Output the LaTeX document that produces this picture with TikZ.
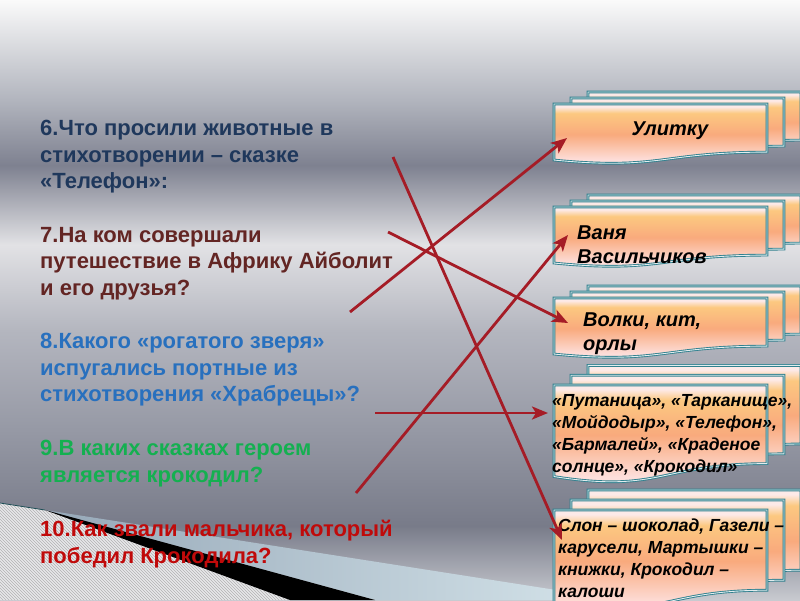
\documentclass[tikz,border=0pt]{standalone}
\usepackage{fontspec}
\setmainfont{Liberation Sans}
\usetikzlibrary{arrows.meta, patterns}

% slide colours
\definecolor{bgtop}{RGB}{250,250,250}
\definecolor{bgpale}{RGB}{178,181,190}
\definecolor{bgdark}{RGB}{126,129,144}
\definecolor{bglight}{RGB}{226,226,229}
\definecolor{bgmid}{RGB}{180,182,191}
\definecolor{bgdim}{RGB}{150,153,165}
\definecolor{bglow}{RGB}{120,123,137}
\definecolor{bgfoot}{RGB}{200,202,208}
\definecolor{qnavy}{RGB}{31,56,92}
\definecolor{qmaroon}{RGB}{99,37,35}
\definecolor{qblue}{RGB}{40,112,190}
\definecolor{qgreen}{RGB}{20,176,80}
\definecolor{qred}{RGB}{192,10,10}
\definecolor{docteal}{RGB}{48,128,142}
\definecolor{docpale}{RGB}{253,234,232}
\definecolor{docamber}{RGB}{252,200,128}
\definecolor{docsalmon}{RGB}{249,170,125}
\definecolor{docpink}{RGB}{253,222,218}
\definecolor{arrowred}{RGB}{165,28,38}
\definecolor{hatchbg}{RGB}{232,232,234}
\definecolor{iceleft}{RGB}{150,168,184}
\definecolor{iceright}{RGB}{214,229,235}

\pgfdeclareverticalshading{slidebg}{100bp}{color(0bp)=(bgfoot); color(25bp)=(bgfoot);
  color(31.2bp)=(bglow); color(39.2bp)=(bgdim); color(47.5bp)=(bgmid);
  color(54.6bp)=(bglight); color(61.2bp)=(bgdark); color(66.7bp)=(bgpale);
  color(75bp)=(bgtop); color(100bp)=(bgtop)}
\pgfdeclareverticalshading{docfill}{100bp}{color(0bp)=(docpale); color(25bp)=(docpale);
  color(33bp)=(docpink); color(52bp)=(docsalmon); color(68bp)=(docamber);
  color(73bp)=(docpale); color(100bp)=(docpale)}

% one sheet of the stacked document shape: left x, top y, height
\newcommand{\doclayer}[3]{%
  \pgfmathsetmacro\dxr{#1+213}
  \pgfmathsetmacro\dxm{#1+106.5}
  \pgfmathsetmacro\dyr{#2+0.802*#3}
  \pgfmathsetmacro\dyl{#2+0.934*#3}
  \pgfmathsetmacro\dyc{#2+1.108*#3}
  \path[doclayer] (#1,#2) -- (\dxr,#2) -- (\dxr,\dyr)
    .. controls (\dxm,\dyr) and (\dxm,\dyc) .. (#1,\dyl) -- cycle;
}
% three sheets, front one named: name, left x, top y, height
\newcommand{\docstack}[4]{%
  \foreach \k in {2,1,0}{
    \pgfmathsetmacro\lx{#2+17*\k}
    \pgfmathsetmacro\ty{#3-0.1*#4*\k}
    \doclayer{\lx}{\ty}{#4}
  }
  \node[docbox, minimum height=#4pt, anchor=north west] (#1) at (#2,#3) {};
}

\begin{document}
\begin{tikzpicture}[
  x=1pt, y=-1pt,
  doclayer/.style={shade, shading=docfill, draw=docteal, line width=0.9pt,
                   double=white!85!docteal, double distance=0.9pt},
  docbox/.style={inner sep=0, minimum width=213pt},
  qtext/.style={anchor=north west, align=left, inner sep=0,
                font=\fontsize{22}{26.6}\selectfont\bfseries},
  atext/.style={inner sep=0, align=left,
                font=\fontsize{20}{23.5}\selectfont\bfseries\itshape},
  asmall/.style={atext, font=\fontsize{17.5}{22}\selectfont\bfseries\itshape},
  match/.style={draw=arrowred, line width=2.8pt,
                -{Stealth[length=16pt, width=13pt, inset=4pt]}},
]
\useasboundingbox (0,0) rectangle (800,600);
\clip (0,0) rectangle (800,600);

% background
\shade[shading=slidebg] (0,0) rectangle (800,600);
\fill[hatchbg] (0,503) -- (45,510) -- (290,600) -- (0,600) -- cycle;
\fill[pattern=north west lines, pattern color=gray!60]
  (0,503) -- (45,510) -- (290,600) -- (0,600) -- cycle;
\shade[left color=iceleft, right color=iceright]
  (45,510) -- (620,600) -- (375,600) -- cycle;
\fill[black] (45,510) -- (375,600) -- (290,600) -- cycle;
\draw[docteal!60!black, line width=0.8pt] (0,503) -- (45,510);

% questions
\node[qtext, text=qnavy] (q6) at (40,120)
  {6.Что просили животные в\\стихотворении – сказке\\«Телефон»:};
\node[qtext, text=qmaroon] (q7) at (40,227)
  {7.На ком совершали\\путешествие в Африку Айболит\\и его друзья?};
\node[qtext, text=qblue] (q8) at (40,333)
  {8.Какого «рогатого зверя»\\испугались портные из\\стихотворения «Храбрецы»?};
\node[qtext, text=qgreen] (q9) at (40,440)
  {9.В каких сказках героем\\является крокодил?};
\node[qtext, text=qred] (q10) at (40,520)
  {10.Как звали мальчика, который\\победил Крокодила?};

% answers
\docstack{doc1}{554}{104}{60}
\docstack{doc2}{554}{207}{60}
\docstack{doc3}{554}{298}{60}
\docstack{doc4}{554}{385}{98}
\docstack{doc5}{554}{510}{100}

\node[atext, anchor=base] (ans1) at (670,135) {Улитку};
\node[atext, anchor=north west] (ans2) at (577,226) {Ваня\\Васильчиков};
\node[atext, anchor=north west] (ans3) at (583,313) {Волки, кит,\\орлы};
\node[asmall, anchor=north west] (ans4) at (552,394)
  {«Путаница», «Тарканище»,\\«Мойдодыр», «Телефон»,\\«Бармалей», «Краденое\\солнце», «Крокодил»};
\node[asmall, anchor=north west] (ans5) at (558,519)
  {Слон – шоколад, Газели –\\карусели, Мартышки –\\книжки, Крокодил –\\калоши};

% matching lines
\coordinate (s6) at (393,157);
\coordinate (s7) at (388,232);
\coordinate (s8) at (350,312);
\coordinate (s9) at (375,413);
\coordinate (s10) at (356,493);
\draw[match] (s6) -- ([shift={(8,30)}]doc5.north west);
\draw[match] (s7) -- ([shift={(14,25)}]doc3.north west);
\draw[match] (s8) -- ([shift={(13,34)}]doc1.north west);
\draw[match] (s9) -- ([shift={(-6,28)}]doc4.north west);
\draw[match] (s10) -- ([shift={(14,28)}]doc2.north west);
\end{tikzpicture}
\end{document}
